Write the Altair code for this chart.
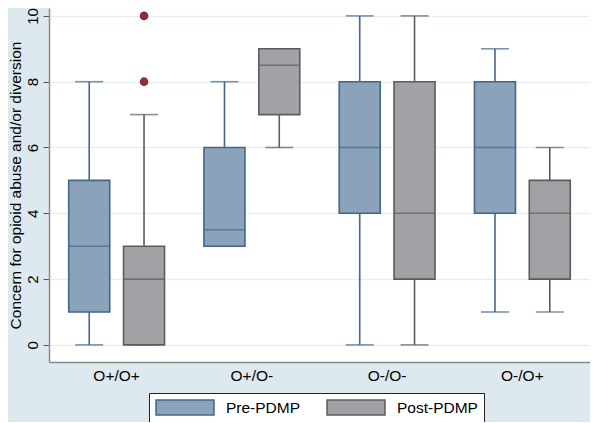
import altair as alt
import pandas as pd

groups = ["O+/O+", "O+/O-", "O-/O-", "O-/O+"]
periods = ["Pre-PDMP", "Post-PDMP"]
line_keys = ["pre", "post"]

pre_min = [0, 3, 0, 1]
pre_q1 = [1, 3, 4, 4]
pre_med = [3, 3.5, 6, 6]
pre_q3 = [5, 6, 8, 8]
pre_max = [8, 8, 10, 9]

post_min = [0, 6, 0, 1]
post_q1 = [0, 7, 2, 2]
post_med = [2, 8.5, 4, 4]
post_q3 = [3, 9, 8, 5]
post_max = [7, 9, 10, 6]

out_group = ["O+/O+", "O+/O+"]
out_period = ["Post-PDMP", "Post-PDMP"]
out_value = [8, 10]

rows = []
for i, g in enumerate(groups):
    rows.append(dict(group=g, period="Pre-PDMP", key="pre", lo=pre_min[i], q1=pre_q1[i],
                     med=pre_med[i], q3=pre_q3[i], hi=pre_max[i]))
    rows.append(dict(group=g, period="Post-PDMP", key="post", lo=post_min[i], q1=post_q1[i],
                     med=post_med[i], q3=post_q3[i], hi=post_max[i]))
df = pd.DataFrame(rows)
odf = pd.DataFrame(dict(group=out_group, period=out_period, value=out_value))

FONT = "Liberation Sans"
fill_scale = alt.Scale(domain=periods, range=["#8aa2ba", "#a0a2a6"])
stroke_scale = alt.Scale(domain=periods, range=["#45658b", "#5c5c5c"])
line_scale = alt.Scale(domain=line_keys, range=["#45658b", "#5c5c5c"])

x_enc = alt.X("group:N", sort=groups, title=None,
              scale=alt.Scale(paddingInner=0, paddingOuter=0),
              axis=alt.Axis(labelAngle=0, ticks=False, labelFontSize=15.5,
                            labelPadding=6, domainColor="#8a8a8a", domainWidth=1.5))
xo_enc = alt.XOffset("period:N", sort=periods,
                     scale=alt.Scale(paddingInner=0, paddingOuter=0.234))
y_scale = alt.Scale(domain=[-0.52, 10.24], nice=False, zero=False)
y_axis = alt.Axis(values=[0, 2, 4, 6, 8, 10], labelAngle=270, labelFontSize=15,
                  tickSize=6, tickColor="#555555", domainColor="#8a8a8a", domainWidth=1.5,
                  gridColor="#e7eff2", gridWidth=1.5, labelPadding=3,
                  title="Concern for opioid abuse and/or diversion",
                  titleFontSize=15.5, titleFontWeight="normal", titlePadding=2)

base = alt.Chart(df)
line_color = alt.Color("key:N", scale=line_scale, legend=None)

whisk_lo = base.mark_rule(strokeWidth=1.6).encode(
    x=x_enc, xOffset=xo_enc,
    y=alt.Y("lo:Q", scale=y_scale, axis=y_axis), y2="q1:Q", color=line_color)
whisk_hi = base.mark_rule(strokeWidth=1.6).encode(
    x=x_enc, xOffset=xo_enc, y=alt.Y("q3:Q", scale=y_scale), y2="hi:Q", color=line_color)
cap_lo = base.mark_tick(size=28, thickness=1.6).encode(
    x=x_enc, xOffset=xo_enc, y=alt.Y("lo:Q", scale=y_scale), color=line_color)
cap_hi = base.mark_tick(size=28, thickness=1.6).encode(
    x=x_enc, xOffset=xo_enc, y=alt.Y("hi:Q", scale=y_scale), color=line_color)

legend = alt.Legend(
    title=None, orient="none", legendX=100, legendY=385, direction="horizontal",
    symbolType="M-1,-1L6.73,-1L6.73,1L-1,1Z", symbolSize=225,
    symbolStrokeWidth=1.5, labelFontSize=15.5, labelFont=FONT, labelOffset=54,
    columnPadding=23, padding=6, strokeColor="#222222", fillColor="white")

box = base.mark_bar(size=41, strokeWidth=1.6, opacity=1).encode(
    x=x_enc, xOffset=xo_enc, y=alt.Y("q1:Q", scale=y_scale), y2="q3:Q",
    fill=alt.Fill("period:N", scale=fill_scale, sort=periods, legend=legend),
    stroke=alt.Stroke("period:N", scale=stroke_scale, sort=periods, legend=legend))
median = base.mark_tick(size=41, thickness=1.6).encode(
    x=x_enc, xOffset=xo_enc, y=alt.Y("med:Q", scale=y_scale), color=line_color)

outliers = alt.Chart(odf).mark_point(filled=True, size=75, opacity=1, color="#8e2f38").encode(
    x=x_enc, xOffset=xo_enc, y=alt.Y("value:Q", scale=y_scale))

chart = alt.layer(whisk_lo, whisk_hi, cap_lo, cap_hi, box, median, outliers).properties(
    width=541, height=354, background="#dde9ef",
    autosize=alt.AutoSizeParams(type="none"),
    padding={"left": 41, "top": 0, "right": 0, "bottom": 60},
).configure(font=FONT).configure_view(fill="white", stroke=None)

chart.save("out.html", embed_options={"renderer": "svg", "actions": False})
